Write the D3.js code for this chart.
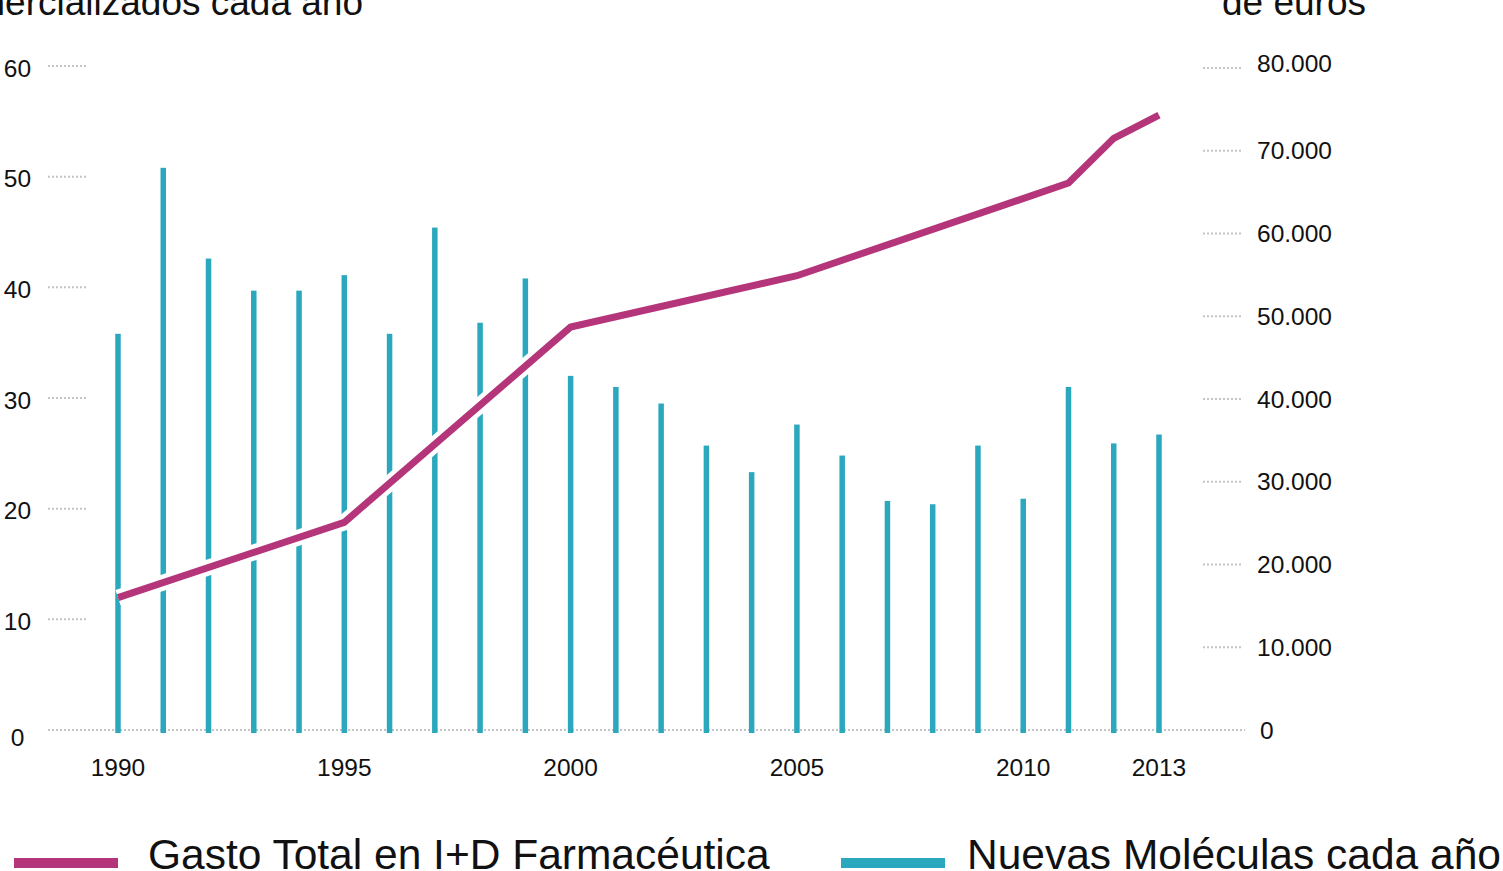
<!DOCTYPE html>
<html>
<head>
<meta charset="utf-8">
<script src="https://cdn.jsdelivr.net/npm/d3@7"></script>
<style>
  html, body { margin: 0; padding: 0; background: #fff; overflow: hidden; }
  svg { display: block; font-family: "Liberation Sans", Arial, Helvetica, sans-serif; }
</style>
</head>
<body>
<svg id="chart" width="1503" height="871"></svg>
<script>
// ---- Data ----
const years = [1990,1991,1992,1993,1994,1995,1996,1997,1998,1999,2000,2001,2002,2003,2004,2005,2006,2007,2008,2009,2010,2011,2012,2013];
const newMolecules = [35.8,50.8,42.6,39.7,39.7,41.1,35.8,45.4,36.8,40.8,32.0,31.0,29.5,25.7,23.3,27.6,24.8,20.7,20.4,25.7,20.9,31.0,25.9,26.7];
const spendYears = [1990,1995,2000,2005,2011,2012,2013];
const spendValues = [16000,25100,48700,54900,66100,71500,74300];
const leftTicks = [0,10,20,30,40,50,60];
const rightTicks = [0,10000,20000,30000,40000,50000,60000,70000,80000];
const xTickYears = [1990,1995,2000,2005,2010,2013];
const leftTitle = "Nuevos medicamentos comercializados cada año";
const rightTitle = "de euros";
const legendItems = [
  {label: "Gasto Total en I+D Farmacéutica", color: "#b5357a"},
  {label: "Nuevas Moléculas cada año", color: "#2ba8bd"}
];

// ---- Setup ----
const svg = d3.select("#chart");
const magenta = "#b5357a", teal = "#2ba8bd", dotted = "#c4c4c4";

const x = d3.scaleLinear().domain([1990, 2013]).range([118, 1159]);
const yL = d3.scaleLinear().domain([0, 60]).range([730, 66]);
const yR = d3.scaleLinear().domain([0, 80000]).range([730, 68]);

const fmtR = v => d3.format(",")(v).replace(/,/g, ".");

// Titles (partially cropped as in reference)
svg.append("text").attr("x", 363).attr("y", 15).attr("text-anchor", "end")
  .attr("font-size", 37).attr("fill", "#111").text(leftTitle);
svg.append("text").attr("x", 1222).attr("y", 15).attr("text-anchor", "start")
  .attr("font-size", 37).attr("fill", "#111").text(rightTitle);

// Left ticks (short dotted lines) + labels
const gL = svg.append("g");
gL.selectAll("line").data(leftTicks.filter(d => d !== 0)).join("line")
  .attr("x1", 48).attr("x2", 88)
  .attr("y1", d => yL(d)).attr("y2", d => yL(d))
  .attr("stroke", dotted).attr("stroke-width", 2).attr("stroke-dasharray", "2,2");
gL.selectAll("text").data(leftTicks).join("text")
  .attr("x", 17.5).attr("y", d => yL(d) + (d === 0 ? 7 : 2))
  .attr("dy", "0.35em").attr("text-anchor", "middle")
  .attr("font-size", 24.5).attr("fill", "#111").text(d => d);

// Right ticks + labels
const gR = svg.append("g");
gR.selectAll("line").data(rightTicks.filter(d => d !== 0)).join("line")
  .attr("x1", 1203).attr("x2", 1243)
  .attr("y1", d => yR(d)).attr("y2", d => yR(d))
  .attr("stroke", dotted).attr("stroke-width", 2).attr("stroke-dasharray", "2,2");
gR.selectAll("text").data(rightTicks).join("text")
  .attr("x", d => d === 0 ? 1260 : 1257).attr("y", d => yR(d) - (d === 80000 ? 5 : 0))
  .attr("dy", "0.35em").attr("text-anchor", "start")
  .attr("font-size", 24.5).attr("fill", "#111").text(d => fmtR(d));

// Baseline dotted
svg.append("line").attr("x1", 48).attr("x2", 1245)
  .attr("y1", yL(0)).attr("y2", yL(0))
  .attr("stroke", dotted).attr("stroke-width", 2).attr("stroke-dasharray", "2,2");

// Bars
svg.append("g").selectAll("rect").data(years).join("rect")
  .attr("x", (d) => x(d) - 2.75)
  .attr("width", 5.5)
  .attr("y", (d, i) => yL(newMolecules[i]))
  .attr("height", (d, i) => yL(0) + 3 - yL(newMolecules[i]))
  .attr("fill", teal);

// Line with white halo
const lineData = spendYears.map((yr, i) => [yr, spendValues[i]]);
const lineGen = d3.line().x(d => x(d[0])).y(d => yR(d[1]));
svg.append("path").datum(lineData).attr("d", lineGen)
  .attr("fill", "none").attr("stroke", "#fff").attr("stroke-width", 16)
  .attr("stroke-linejoin", "miter").attr("stroke-linecap", "butt");
svg.append("path").datum(lineData).attr("d", lineGen)
  .attr("fill", "none").attr("stroke", magenta).attr("stroke-width", 7)
  .attr("stroke-linejoin", "miter").attr("stroke-linecap", "butt");

// X-axis labels
svg.append("g").selectAll("text").data(xTickYears).join("text")
  .attr("x", d => x(d)).attr("y", 767).attr("dy", "0.35em")
  .attr("text-anchor", "middle").attr("font-size", 24.5).attr("fill", "#111")
  .text(d => d);

// Legend
const legendPos = [{sx: 14, tx: 148}, {sx: 841, tx: 967}];
const lg = svg.append("g");
legendItems.forEach((item, i) => {
  lg.append("rect").attr("x", legendPos[i].sx).attr("y", 858)
    .attr("width", 104).attr("height", 10).attr("fill", item.color);
  lg.append("text").attr("x", legendPos[i].tx).attr("y", 869)
    .attr("font-size", 42.5).attr("fill", "#111").text(item.label);
});
</script>
</body>
</html>
